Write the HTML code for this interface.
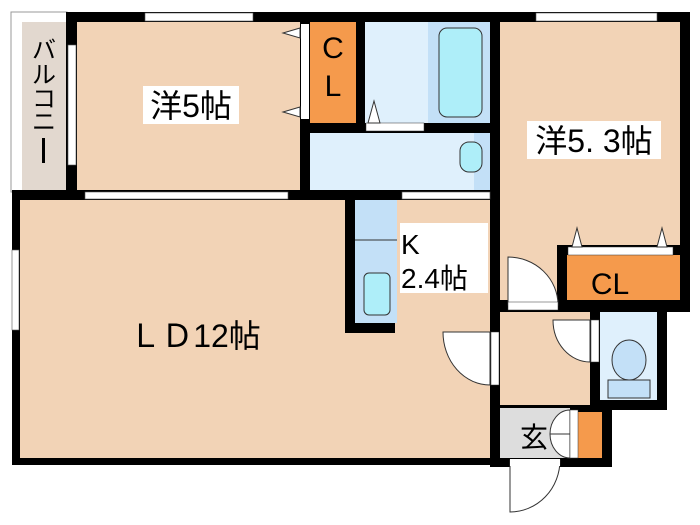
<!DOCTYPE html>
<html><head><meta charset="utf-8"><style>
html,body{margin:0;padding:0;background:#fff;width:700px;height:525px;overflow:hidden}
text{font-family:"Liberation Sans","Noto Sans CJK JP",sans-serif;fill:#000}
</style></head><body>
<svg width="700" height="525" viewBox="0 0 700 525" xmlns="http://www.w3.org/2000/svg">
<rect x="11" y="12" width="56" height="180" fill="#fff" stroke="#999" stroke-width="1"/>
<rect x="22" y="22" width="45" height="168" fill="#e2d8cf"/>
<rect x="12" y="190" width="480" height="275" fill="#000"/>
<rect x="66" y="12" width="624" height="188" fill="#000"/>
<rect x="490" y="12" width="200" height="300" fill="#000"/>
<rect x="490" y="300" width="177" height="110" fill="#000"/>
<rect x="490" y="400" width="122" height="67" fill="#000"/>
<rect x="77" y="22" width="223" height="168" fill="#f2d3b6"/>
<rect x="310" y="22" width="46" height="101" fill="#f59a4c"/>
<rect x="365" y="22" width="63" height="101" fill="#dff0fc"/>
<rect x="428" y="22" width="62" height="101" fill="#c3e0f7"/>
<rect x="439" y="28" width="43" height="89" rx="8" fill="#aeeef9" stroke="#333"/>
<rect x="310" y="133" width="180" height="57" fill="#dff0fc"/>
<rect x="474" y="133" width="16" height="57" fill="#c3e0f7"/>
<rect x="460" y="142" width="22" height="30" rx="9" fill="#aeeef9" stroke="#333"/>
<rect x="20" y="200" width="470" height="258" fill="#f2d3b6"/>
<rect x="345" y="200" width="10" height="133" fill="#000"/>
<rect x="345" y="323" width="50" height="10" fill="#000"/>
<rect x="355" y="200" width="42" height="123" fill="#c3e0f7"/>
<line x1="355" y1="240" x2="397" y2="240" stroke="#333"/>
<rect x="364" y="273" width="26" height="42" rx="5" fill="#aeeef9" stroke="#333"/>
<rect x="500" y="22" width="180" height="223" fill="#f2d3b6"/>
<rect x="500" y="245" width="57" height="55" fill="#f2d3b6"/>
<rect x="567" y="255" width="113" height="45" fill="#f59a4c"/>
<rect x="568" y="247" width="105" height="8" fill="#fff" stroke="#333" stroke-width="0.5"/>
<polygon points="572,247 577,228 582,247" fill="#fff" stroke="#333"/>
<polygon points="657,247 662,228 667,247" fill="#fff" stroke="#333"/>
<rect x="500" y="312" width="90" height="93" fill="#f2d3b6"/>
<rect x="600" y="312" width="57" height="88" fill="#dff0fc"/>
<ellipse cx="629" cy="360" rx="17" ry="20" fill="#c3e0f7" stroke="#333"/>
<rect x="608" y="380" width="42" height="18" fill="#c3e0f7" stroke="#333"/>
<rect x="500" y="408" width="70" height="50" fill="#ddd"/>
<rect x="578" y="412" width="24" height="46" fill="#f59a4c"/>
<rect x="145" y="13" width="108" height="8" fill="#fff" stroke="#555" stroke-width="0.6"/>
<rect x="536" y="13" width="121" height="8" fill="#fff" stroke="#555" stroke-width="0.6"/>
<rect x="68" y="45" width="8" height="120" fill="#fff" stroke="#555" stroke-width="0.6"/>
<rect x="12" y="250" width="7" height="80" fill="#fff" stroke="#555" stroke-width="0.6"/>
<rect x="85" y="192" width="203" height="7" fill="#fff" stroke="#555" stroke-width="0.6"/>
<rect x="402" y="192" width="88" height="7" fill="#fff" stroke="#555" stroke-width="0.6"/>
<rect x="301" y="24" width="8" height="95" fill="#fff"/>
<polygon points="300,28 283,33 300,38" fill="#fff" stroke="#333"/>
<polygon points="300,107 283,112 300,117" fill="#fff" stroke="#333"/>
<rect x="366" y="123" width="58" height="8" fill="#fff" stroke="#333" stroke-width="0.5"/>
<polygon points="368,123 374,101 380,123" fill="#fff" stroke="#333"/>
<path d="M508,257 A50,48 0 0 1 558,305 L508,305 Z" fill="#fff" stroke="#333"/>
<rect x="508" y="302" width="50" height="8" fill="#fff" stroke="#333" stroke-width="0.5"/>
<path d="M490,332 L443,332 A47,53 0 0 0 490,385 Z" fill="#fff" stroke="#333"/>
<rect x="491" y="332" width="8" height="53" fill="#fff" stroke="#333" stroke-width="0.5"/>
<path d="M590,320 L553,320 A37,42 0 0 0 590,362 Z" fill="#fff" stroke="#333"/>
<rect x="591" y="320" width="8" height="42" fill="#fff" stroke="#333" stroke-width="0.5"/>
<path d="M570,410 A20,24 0 0 0 550,434 L570,434 Z M570,458 A20,24 0 0 1 550,434 L570,434Z" fill="#fff" stroke="#333"/>
<rect x="570" y="410" width="8" height="48" fill="#fff" stroke="#333" stroke-width="0.5"/>
<path d="M510,460 L560,460 A50,52 0 0 1 510,512 Z" fill="#fff" stroke="#333"/>
<rect x="510" y="459" width="50" height="7" fill="#fff"/>
<rect x="143" y="86" width="96" height="38" fill="#fff"/>
<text x="191" y="117" font-size="32" text-anchor="middle">洋5帖</text>
<text x="333" y="58" font-size="30" text-anchor="middle">C</text>
<text x="333" y="96" font-size="30" text-anchor="middle">L</text>
<rect x="527" y="121" width="134" height="38" fill="#fff"/>
<text x="594" y="152" font-size="32" text-anchor="middle">洋5. 3帖</text>
<text x="610" y="294" font-size="30" text-anchor="middle">CL</text>
<rect x="400" y="223" width="88" height="70" fill="#fff"/>
<text x="401" y="254" font-size="28">K</text>
<text x="401" y="288" font-size="28">2.4帖</text>
<text x="195" y="347" font-size="32" text-anchor="middle">ＬＤ12帖</text>
<text x="534" y="447" font-size="28" text-anchor="middle">玄</text>
<text x="44" y="58" font-size="24" text-anchor="middle">バ</text>
<text x="44" y="83" font-size="24" text-anchor="middle">ル</text>
<text x="44" y="107" font-size="24" text-anchor="middle">コ</text>
<text x="44" y="130" font-size="24" text-anchor="middle">ニ</text>
<rect x="42" y="138" width="3" height="25" fill="#000"/>
</svg>
</body></html>
